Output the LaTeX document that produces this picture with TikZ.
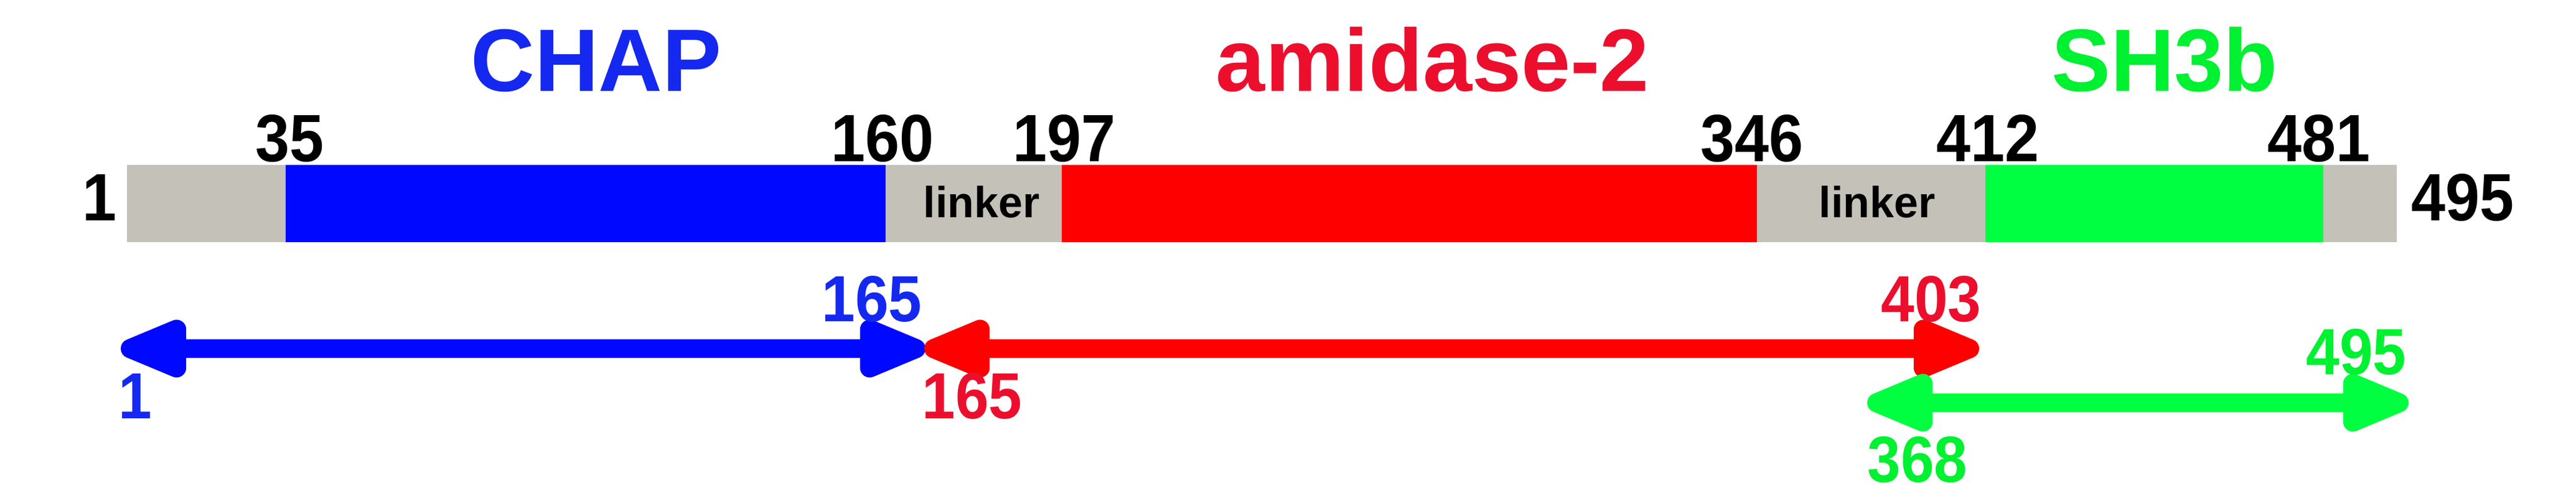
\documentclass[tikz,border=0pt]{standalone}
\usepackage{fontspec}
\setmainfont{Liberation Sans}
\newfontfamily\narrowsans[FakeStretch=0.92]{Liberation Sans}
\usepackage{tikz}
\usetikzlibrary{arrows.meta}

\definecolor{chapblue}{RGB}{0,8,255}
\definecolor{amired}{RGB}{255,0,0}
\definecolor{shgreen}{RGB}{0,255,64}
\definecolor{linkgray}{RGB}{196,193,185}
\definecolor{chaptext}{RGB}{20,40,240}
\definecolor{amitext}{RGB}{235,15,45}
\definecolor{shtext}{RGB}{0,240,50}

\tikzset{
  domtitle/.style={font=\bfseries\fontsize{40.5}{41}\selectfont, anchor=base, inner sep=0pt},
  respos/.style={font=\narrowsans\bfseries\fontsize{30.6}{31}\selectfont, anchor=base, inner sep=0pt},
  cutpos/.style={font=\narrowsans\bfseries\fontsize{29.8}{30}\selectfont, anchor=base, inner sep=0pt},
  linktext/.style={font=\bfseries\fontsize{19.9}{20}\selectfont, anchor=base, inner sep=0pt},
  span/.style={line width=8.8pt, {Triangle[length=1.35cm,width=0.98cm,round]}-{Triangle[length=1.35cm,width=0.98cm,round]}}
}

\begin{document}
\begin{tikzpicture}
  \useasboundingbox (0,0) rectangle (41.39,8);

  % domain bar
    \fill[linkgray] (2.04,4.11) rectangle (4.59,5.35);
    \fill[chapblue] (4.59,4.11) rectangle (14.23,5.35);
    \fill[linkgray] (14.23,4.11) rectangle (17.06,5.35);
    \fill[amired] (17.06,4.11) rectangle (28.23,5.35);
    \fill[linkgray] (28.23,4.11) rectangle (31.90,5.35);
    \fill[shgreen] (31.90,4.11) rectangle (37.33,5.35);
    \fill[linkgray] (37.33,4.11) rectangle (38.51,5.35);

   \draw (15.77,4.50) node[linktext] (linker1) {linker};
   \draw (30.16,4.50) node[linktext] (linker2) {linker};

  % domain names
   \draw (9.58,6.53) node[domtitle,text=chaptext] (chap) {CHAP};
   \draw (23.02,6.53) node[domtitle,text=amitext] (amidase) {amidase-2};
   \draw (34.78,6.53) node[domtitle,text=shtext] (sh3b) {SH3b};

  % residue numbers
   \draw (1.60,4.45) node[respos] (r1) {1};
   \draw (4.66,5.40) node[respos] (r35) {35};
   \draw (14.18,5.40) node[respos] (r160) {160};
   \draw (17.10,5.40) node[respos] (r197) {197};
   \draw (28.15,5.40) node[respos] (r346) {346};
   \draw (31.94,5.40) node[respos] (r412) {412};
   \draw (37.26,5.40) node[respos] (r481) {481};
   \draw (39.57,4.45) node[respos] (r495) {495};

  % constructs
    \coordinate (chapL) at (1.94,2.40);
    \coordinate (chapR) at (14.87,2.40);
    \coordinate (amiL) at (14.85,2.40);
    \coordinate (amiR) at (31.80,2.40);
    \coordinate (shL) at (30.00,1.53);
    \coordinate (shR) at (38.70,1.53);

       \path (chapL) edge[span,chapblue] (chapR);
       \path (amiL) edge[span,amired] (amiR);
       \path (shL) edge[span,shgreen] (shR);

   \draw (2.17,1.27) node[cutpos,text=chaptext] (c1) {1};
   \draw (14.01,2.83) node[cutpos,text=chaptext] (c165) {165};
   \draw (15.62,1.27) node[cutpos,text=amitext] (a165) {165};
   \draw (31.03,2.83) node[cutpos,text=amitext] (a403) {403};
   \draw (30.81,0.25) node[cutpos,text=shtext] (s368) {368};
   \draw (37.86,1.98) node[cutpos,text=shtext] (s495) {495};

\end{tikzpicture}
\end{document}
